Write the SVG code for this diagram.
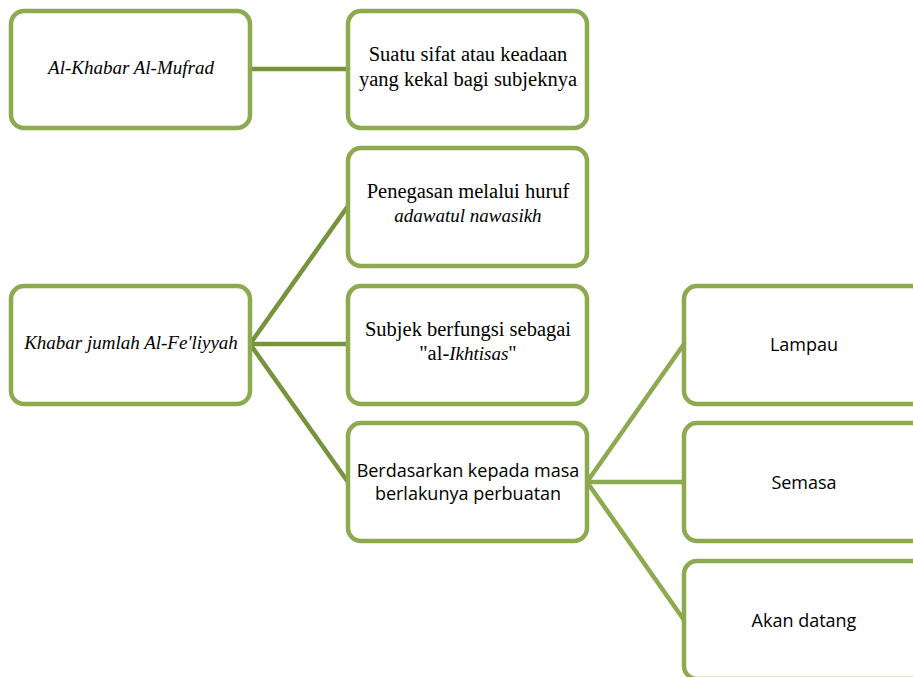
<svg xmlns="http://www.w3.org/2000/svg" width="913" height="677" viewBox="0 0 913 677">
<style>
.box{fill:#fff;stroke:#8DAA50;stroke-width:4.5}
.ln{stroke:#77933C;stroke-width:4.5;fill:none}
.ln2{stroke:#8DAA50;stroke-width:4.5;fill:none}
.sf{font-family:"Liberation Serif","Tinos","DejaVu Serif",serif;font-size:20.5px;fill:#000;text-anchor:middle}
.it{font-style:italic;font-size:19px}
.ss{font-family:"Open Sans","Liberation Sans",sans-serif;font-size:18px;fill:#000;text-anchor:middle}
</style>
<rect width="913" height="677" fill="#fff"/>
<g id="connectors">
<line class="ln" x1="250" y1="69" x2="348" y2="69"/>
<line class="ln" x1="250" y1="344" x2="348" y2="206"/>
<line class="ln" x1="250" y1="344" x2="348" y2="344"/>
<line class="ln" x1="250" y1="344" x2="348" y2="482"/>
<line class="ln2" x1="587" y1="482" x2="684" y2="344"/>
<line class="ln2" x1="587" y1="482" x2="684" y2="482"/>
<line class="ln2" x1="587" y1="482" x2="684" y2="620"/>
</g>
<g id="n1"><rect class="box" x="11" y="11" width="239" height="117" rx="13"/>
<text class="sf it" x="131" y="74">Al-Khabar Al-Mufrad</text></g>
<g id="n2"><rect class="box" x="348" y="11" width="239" height="117" rx="13"/>
<text class="sf" x="468" y="61">Suatu sifat atau keadaan</text>
<text class="sf" x="468" y="86">yang kekal bagi subjeknya</text></g>
<g id="n3"><rect class="box" x="348" y="148" width="239" height="118" rx="13"/>
<text class="sf" x="468" y="198">Penegasan melalui huruf</text>
<text class="sf it" x="468" y="222">adawatul nawasikh</text></g>
<g id="n4"><rect class="box" x="11" y="286" width="239" height="118" rx="13"/>
<text class="sf it" x="131" y="349" font-size="18.5">Khabar jumlah Al-Fe'liyyah</text></g>
<g id="n5"><rect class="box" x="348" y="286" width="239" height="118" rx="13"/>
<text class="sf" x="468" y="336">Subjek berfungsi sebagai</text>
<text class="sf" x="468" y="360">"al-<tspan font-style="italic" font-size="19">Ikhtisas</tspan>"</text></g>
<g id="n6"><rect class="box" x="348" y="423" width="239" height="118" rx="13"/>
<text class="ss" x="468" y="477">Berdasarkan kepada masa</text>
<text class="ss" x="468" y="500">berlakunya perbuatan</text></g>
<g id="n7"><rect class="box" x="684" y="286" width="240" height="118" rx="13"/>
<text class="ss" x="804" y="351">Lampau</text></g>
<g id="n8"><rect class="box" x="684" y="423" width="240" height="118" rx="13"/>
<text class="ss" x="804" y="489">Semasa</text></g>
<g id="n9"><rect class="box" x="684" y="561" width="240" height="118" rx="13"/>
<text class="ss" x="804" y="627">Akan datang</text></g>
</svg>
